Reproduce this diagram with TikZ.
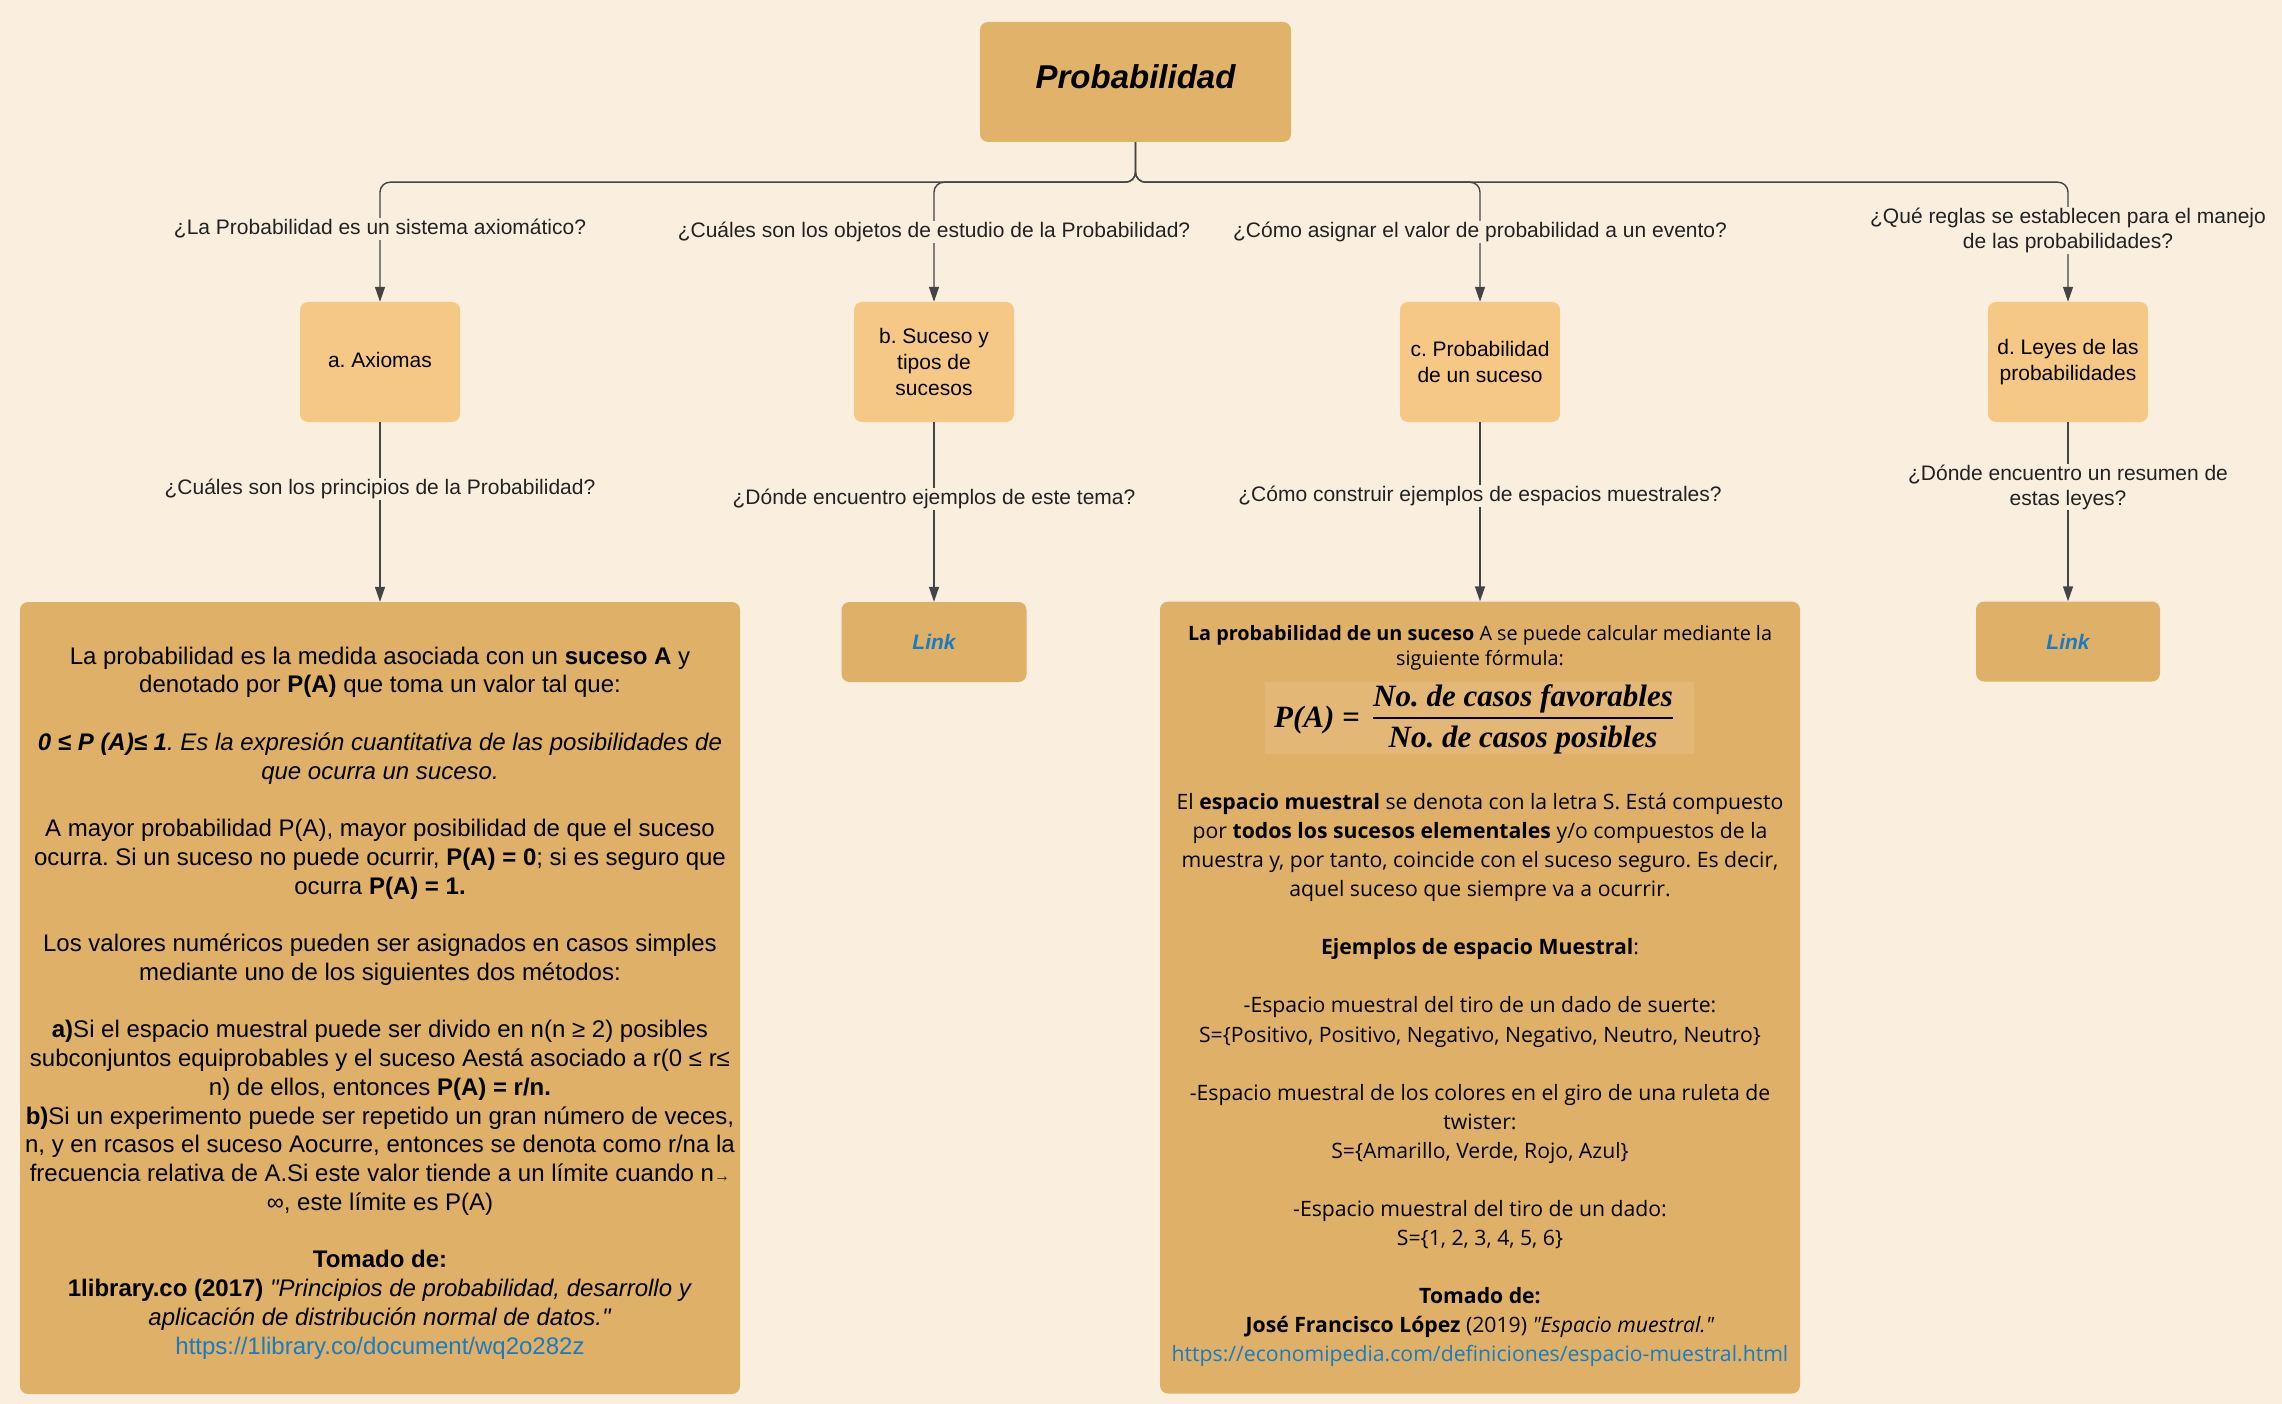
\documentclass[tikz,border=0pt]{standalone}
\usepackage{fontspec}
\setmainfont{Liberation Sans}[Ligatures=TeXOff]
\newfontfamily\osans{Open Sans}[Ligatures=TeXOff]
\newfontfamily\fserif{Liberation Serif}[Ligatures=TeXOff]
\frenchspacing
\usetikzlibrary{arrows.meta}
\definecolor{bgc}{HTML}{FAEEDF}
\definecolor{topc}{HTML}{E0B26A}
\definecolor{lvtwo}{HTML}{F6C885}
\definecolor{bigc}{HTML}{DEB068}
\definecolor{fmlc}{HTML}{E3B877}
\definecolor{linkblue}{HTML}{1A7BC2}
\definecolor{linec}{HTML}{444444}
\definecolor{txtc}{HTML}{222222}
\begin{document}
\begin{tikzpicture}[x=1pt,y=-1pt,
  boxbase/.style={rectangle, rounded corners=8pt, inner sep=0pt, align=center},
  topbox/.style={boxbase, fill=topc, minimum width=311pt, minimum height=120pt, text depth=10pt, font=\fontsize{33}{38}\selectfont\bfseries\itshape},
  catbox/.style={boxbase, fill=lvtwo, minimum width=160pt, minimum height=120pt, font=\fontsize{21}{26}\selectfont},
  infobox/.style={boxbase, fill=bigc, minimum height=792pt},
  linkbox/.style={boxbase, fill=bigc, minimum width=185pt, minimum height=80pt, font=\fontsize{21}{25}\selectfont\bfseries\itshape, text=linkblue},
  qlabel/.style={fill=bgc, inner sep=1pt, align=center, text=txtc, font=\fontsize{21}{25}\selectfont},
  lefttext/.style={align=center, inner sep=0pt, font=\fontsize{24}{28.75}\selectfont},
  righttop/.style={align=center, inner sep=0pt, font=\osans\fontsize{19.8}{25}\selectfont},
  rightmain/.style={align=center, inner sep=0pt, font=\osans\fontsize{21.2}{29.05}\selectfont},
  fmlbox/.style={fill=fmlc, minimum width=429pt, minimum height=72pt, inner sep=0pt},
  fmltext/.style={inner sep=0pt, font=\fserif\fontsize{31}{34}\selectfont\bfseries\itshape},
  conn/.style={draw=linec, line width=1.4pt, -{Triangle[length=15pt,width=10pt]}, rounded corners=10pt},
]
\fill[bgc] (0,0) rectangle (2282,1404);
\useasboundingbox (0,0) rectangle (2282,1404);

% boxes
\node[topbox] (top) at (1135.5,82) {Probabilidad};
\node[catbox, text depth=5pt] (a) at (380,362) {a. Axiomas};
\node[catbox] (b) at (934,362) {b. Suceso y\\tipos de\\sucesos};
\node[catbox] (c) at (1480,362) {c. Probabilidad\\de un suceso};
\node[catbox] (d) at (2068,362) {d. Leyes de las\\probabilidades};
\node[infobox, minimum width=720pt] (abig) at (380,998) {};
\node[linkbox] (linkb) at (934,642) {Link};
\node[infobox, minimum width=640pt] (cbig) at (1480,997.5) {};
\node[linkbox, minimum width=184pt] (linkd) at (2068,641.5) {Link};

% connectors
\draw[conn] (top.south) -- ++(0,40) -| (a.north);
\draw[conn] (top.south) -- ++(0,40) -| (b.north);
\draw[conn] (top.south) -- ++(0,40) -| (c.north);
\draw[conn] (top.south) -- ++(0,40) -| (d.north);
\draw[conn] (a.south) -- (abig.north);
\draw[conn] (b.south) -- (linkb.north);
\draw[conn] (c.south) -- (cbig.north);
\draw[conn] (d.south) -- (linkd.north);

% question labels
\node[qlabel] (qa1) at (380,229) {¿La Probabilidad es un sistema axiomático?};
\node[qlabel] (qb1) at (934,232) {¿Cuáles son los objetos de estudio de la Probabilidad?};
\node[qlabel] (qc1) at (1480,232) {¿Cómo asignar el valor de probabilidad a un evento?};
\node[qlabel] (qd1) at (2068,230.5) {¿Qué reglas se establecen para el manejo\\de las probabilidades?};
\node[qlabel] (qa2) at (380,489) {¿Cuáles son los principios de la Probabilidad?};
\node[qlabel] (qb2) at (934,499) {¿Dónde encuentro ejemplos de este tema?};
\node[qlabel] (qc2) at (1480,496) {¿Cómo construir ejemplos de espacios muestrales?};
\node[qlabel] (qd2) at (2068,487) {¿Dónde encuentro un resumen de\\estas leyes?};

% left info text
\node[lefttext] (atext) at (380,1003) {%
La probabilidad es la medida asociada con un \textbf{suceso A} y\\
denotado por \textbf{P(A)} que toma un valor tal que:\\[28.75pt]
\textbf{\textit{0 ≤ P (A)≤ 1}}\textit{. Es la expresión cuantitativa de las posibilidades de}\\
\textit{que ocurra un suceso.}\\[28.75pt]
A mayor probabilidad P(A), mayor posibilidad de que el suceso\\
ocurra. Si un suceso no puede ocurrir, \textbf{P(A) = 0}; si es seguro que\\
ocurra \textbf{P(A) = 1.}\\[28.75pt]
Los valores numéricos pueden ser asignados en casos simples\\
mediante uno de los siguientes dos métodos:\\[28.75pt]
\textbf{a)}Si el espacio muestral puede ser divido en n(n ≥ 2) posibles\\
subconjuntos equiprobables y el suceso Aestá asociado a r(0 ≤ r≤\\
n) de ellos, entonces \textbf{P(A) = r/n.}\\
\textbf{b)}Si un experimento puede ser repetido un gran número de veces,\\
n, y en rcasos el suceso Aocurre, entonces se denota como r/na la\\
frecuencia relativa de A.Si este valor tiende a un límite cuando n{\fontsize{16}{18}\selectfont →}\\
∞, este límite es P(A)\\[28.75pt]
\textbf{Tomado de:}\\
\textbf{1library.co (2017)} \textit{"Principios de probabilidad, desarrollo y}\\
\textit{aplicación de distribución normal de datos."}\\
\textcolor{linkblue}{https://1library.co/document/wq2o282z}};

% right info text
\node[righttop] (ctop) at (1480,647.5) {\textbf{La probabilidad de un suceso} A se puede calcular mediante la\\siguiente fórmula:};
\node[fmlbox] (fml) at (1479.5,718) {};
\node[fmltext, anchor=east] (fmlL) at (1360,720) {P(A) =};
\node[fmltext] (fmlN) at (1523,699) {No. de casos favorables};
\node[fmltext] (fmlD) at (1523,740) {No. de casos posibles};
\draw[line width=1.8pt] (fmlN.south west |- fml.center) -- (fmlN.south east |- fml.center);
\node[rightmain] (cmain) at (1480,1080) {%
El \textbf{espacio muestral} se denota con la letra S. Está compuesto\\
por \textbf{todos los sucesos elementales} y/o compuestos de la\\
muestra y, por tanto, coincide con el suceso seguro. Es decir,\\
aquel suceso que siempre va a ocurrir.\\[29.05pt]
\textbf{Ejemplos de espacio Muestral}:\\[29.05pt]
-Espacio muestral del tiro de un dado de suerte:\\
S=\{Positivo, Positivo, Negativo, Negativo, Neutro, Neutro\}\\[29.05pt]
-Espacio muestral de los colores en el giro de una ruleta de\\
twister:\\
S=\{Amarillo, Verde, Rojo, Azul\}\\[29.05pt]
-Espacio muestral del tiro de un dado:\\
S=\{1, 2, 3, 4, 5, 6\}\\[29.05pt]
\textbf{Tomado de:}\\
\textbf{José Francisco López} (2019) \textit{"Espacio muestral."}\\
\textcolor{linkblue}{https://economipedia.com/definiciones/espacio-muestral.html}};
\end{tikzpicture}
\end{document}
